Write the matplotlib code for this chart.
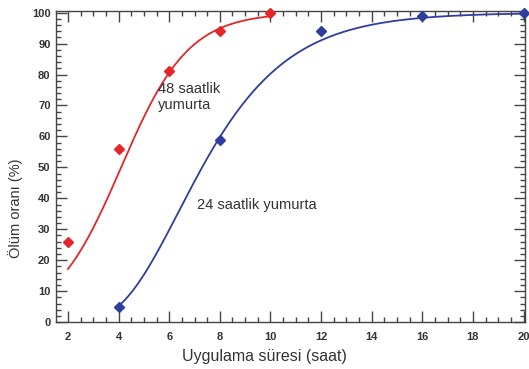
import math
import numpy as np
import matplotlib
matplotlib.use('Agg')
import matplotlib.pyplot as plt
from matplotlib.ticker import MultipleLocator

# measured mortality (%) vs exposure time (hours)
x48 = [2, 4, 6, 8, 10]
y48 = [26, 56, 81, 94, 100]
x24 = [4, 8, 12, 16, 20]
y24 = [5, 59, 94, 99, 100]

# fitted curve parameters
k48, x0_48 = 0.75, 4.1          # logistic in time
mu24, sig24 = math.log(7.3), 0.37  # probit in log(time)

RED = '#e3262a'
BLUE = '#2f3d9c'
TXT = '#333333'

plt.rcParams['font.family'] = ['Liberation Sans', 'DejaVu Sans']

fig = plt.figure(figsize=(5.29, 3.69), dpi=100)
ax = fig.add_axes([0.106, 0.127, 0.886, 0.843])

t48 = np.linspace(x48[0], x48[-1], 200)
ax.plot(t48, 100 / (1 + np.exp(-k48 * (t48 - x0_48))), color=RED, lw=1.3)
t24 = np.linspace(x24[0], x24[-1], 300)
z = (np.log(t24) - mu24) / sig24
ax.plot(t24, [50 * (1 + math.erf(v / math.sqrt(2))) for v in z], color=BLUE, lw=1.3)

ax.plot(x48, y48, 'D', color=RED, ms=4.6, clip_on=False, zorder=5)
ax.plot(x24, y24, 'D', color=BLUE, ms=4.6, clip_on=False, zorder=5)

ax.text(5.55, 77.5, '48 saatlik\nyumurta', fontsize=10.5, color=TXT, va='top', linespacing=1.15)
ax.text(7.1, 38, '24 saatlik yumurta', fontsize=10.5, color=TXT, va='center')

ax.set_xlim(1.53, 20.05)
ax.set_ylim(0, 100.5)
ax.xaxis.set_major_locator(MultipleLocator(2))
ax.xaxis.set_minor_locator(MultipleLocator(0.5))
ax.yaxis.set_major_locator(MultipleLocator(10))
ax.yaxis.set_minor_locator(MultipleLocator(2))
ax.tick_params(which='both', direction='in', top=True, right=True, color='#444444', width=1)
ax.tick_params(which='major', length=8)
ax.tick_params(which='minor', length=3.5)
ax.tick_params(axis='x', which='major', pad=7)
ax.tick_params(axis='y', which='major', pad=4)
for lab in ax.get_xticklabels() + ax.get_yticklabels():
    lab.set_fontweight('bold')
    lab.set_fontsize(8)
    lab.set_color(TXT)
for s in ax.spines.values():
    s.set_color('#444444')
    s.set_linewidth(1)

# axis titles sit off-centre in the original
fig.text(264.5 / 529, 1 - 357 / 369, 'Uygulama süresi (saat)', fontsize=11.5, color=TXT,
         ha='center', va='center')
fig.text(16 / 529, 1 - 208 / 369, 'Ölüm oranı (%)', fontsize=10.5, color=TXT,
         ha='center', va='center', rotation=90)

fig.savefig('out.png', dpi=100)
